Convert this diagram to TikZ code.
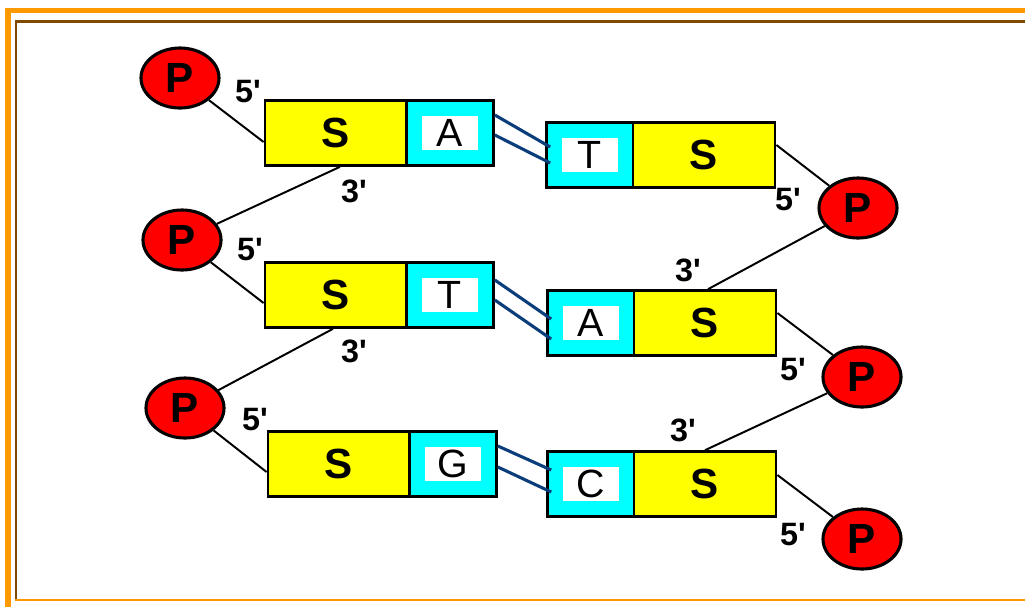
\documentclass[tikz,border=0pt]{standalone}
\usepackage{fontspec}
\setmainfont{Liberation Sans}
\usetikzlibrary{shapes.geometric,calc}

\definecolor{frameorange}{HTML}{FF9900}
\definecolor{framebrown}{HTML}{7F4A00}
\definecolor{bondblue}{HTML}{0A3D7A}
\definecolor{sugaryellow}{HTML}{FFFF00}
\definecolor{basecyan}{HTML}{00FFFF}
\definecolor{phosred}{HTML}{FF0000}

\begin{document}
\begin{tikzpicture}[x=0.025cm,y=-0.025cm,
    sugar/.style={draw,line width=2pt,fill=sugaryellow,minimum width=3.55cm,minimum height=1.62cm,inner sep=0pt,font=\fontsize{30}{30}\selectfont\bfseries},
    base/.style={draw,line width=2pt,fill=basecyan,minimum width=2.17cm,minimum height=1.62cm,inner sep=0pt},
    letter/.style={fill=white,minimum width=1.4cm,minimum height=0.85cm,inner sep=0pt,font=\fontsize{28}{28}\selectfont},
    phos/.style={ellipse,draw,line width=2.2pt,fill=phosred,minimum width=1.95cm,minimum height=1.5cm,inner sep=0pt,font=\fontsize{30}{30}\selectfont\bfseries},
    prime/.style={font=\fontsize{23}{23}\selectfont\bfseries},
    link/.style={line width=1.4pt},
    bond/.style={line width=2.2pt,bondblue}]
    \useasboundingbox (0,0) rectangle (1025,607);
    % frame
    \draw[frameorange,line width=3.2pt] (5,10.5) -- (1025,10.5);
    \draw[frameorange,line width=4.2pt] (8,8.3) -- (8,607);
    \draw[framebrown,line width=1.8pt] (15,21.3) -- (1025,21.3);
    \draw[framebrown,line width=1.4pt] (16,20) -- (16,600);
    \draw[frameorange,line width=1.8pt] (15,600) -- (1025,600);
    % left strand
    \node[sugar] (s1) at (336,133) {S};
    \node[base] (b1) at (450,133) {};
    \node[letter] (b1t) at (b1) {A};
    \node[sugar] (s2) at (336,295) {S};
    \node[base] (b2) at (450,295) {};
    \node[letter] (b2t) at (b2) {T};
    \node[sugar] (s3) at (339,464) {S};
    \node[base] (b3) at (453,464) {};
    \node[letter] (b3t) at (b3) {G};
    \node[phos] (p1) at (180,78) {P};
    \node[phos] (p2) at (182,240) {P};
    \node[phos] (p3) at (185,408) {P};
    % right strand
    \node[base] (b4) at (590,155) {};
    \node[letter] (b4t) at (b4) {T};
    \node[sugar] (s4) at (704,155) {S};
    \node[base] (b5) at (591,323) {};
    \node[letter] (b5t) at (b5) {A};
    \node[sugar] (s5) at (705,323) {S};
    \node[base] (b6) at (591,484) {};
    \node[letter] (b6t) at (b6) {C};
    \node[sugar] (s6) at (705,484) {S};
    \node[phos] (p4) at (858,208) {P};
    \node[phos] (p5) at (862,377) {P};
    \node[phos] (p6) at (862,539) {P};
    % backbone
    \draw[link] (p1) -- ($(s1.west)+(0,9)$);
    \draw[link] ($(s1.south)+(4,0)$) -- (p2);
    \draw[link] (p2) -- ($(s2.west)+(0,8)$);
    \draw[link] ($(s2.south)+(-3,0)$) -- (p3);
    \draw[link] (p3) -- ($(s3.west)+(0,8)$);
    \draw[link] ($(s4.east)+(0,-10)$) -- (p4);
    \draw[link] (p4) -- ($(s5.north)+(3,0)$);
    \draw[link] ($(s5.east)+(0,-10)$) -- (p5);
    \draw[link] (p5) -- (s6.north);
    \draw[link] ($(s6.east)+(0,-9)$) -- (p6);
    % hydrogen bonds
    \draw[bond] ($(b1.east)+(0,-18)$) -- ($(b4.west)+(5,-8)$);
    \draw[bond] ($(b1.east)+(0,2)$) -- ($(b4.west)+(5,8)$);
    \draw[bond] ($(b2.east)+(0,-15)$) -- ($(b5.west)+(5,-4)$);
    \draw[bond] ($(b2.east)+(0,5)$) -- ($(b5.west)+(5,16)$);
    \draw[bond] ($(b3.east)+(0,-18)$) -- ($(b6.west)+(5,-14)$);
    \draw[bond] ($(b3.east)+(0,3)$) -- ($(b6.west)+(5,8)$);
    % ends
    \node[prime] (l1) at (248,92) {5\textquotesingle};
    \node[prime] (l2) at (354,191) {3\textquotesingle};
    \node[prime] (l3) at (250,250) {5\textquotesingle};
    \node[prime] (l4) at (354,351) {3\textquotesingle};
    \node[prime] (l5) at (255,420) {5\textquotesingle};
    \node[prime] (l6) at (788,200) {5\textquotesingle};
    \node[prime] (l7) at (688,270) {3\textquotesingle};
    \node[prime] (l8) at (793,370) {5\textquotesingle};
    \node[prime] (l9) at (683,430) {3\textquotesingle};
    \node[prime] (l10) at (793,535) {5\textquotesingle};
\end{tikzpicture}
\end{document}
